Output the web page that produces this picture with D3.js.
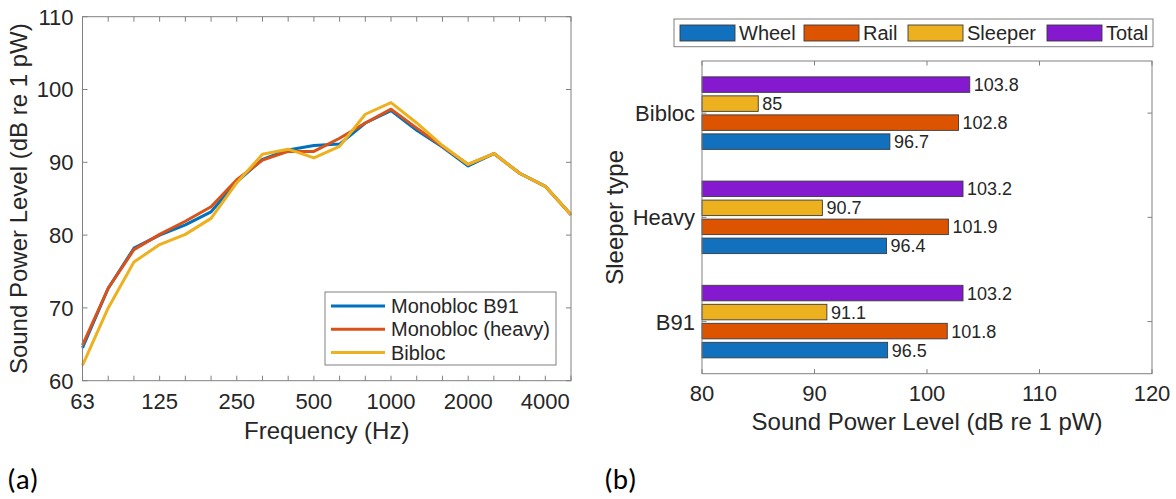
<!DOCTYPE html>
<html>
<head>
<meta charset="utf-8">
<script src="https://cdn.jsdelivr.net/npm/d3@7"></script>
<style>
  html, body { margin: 0; padding: 0; background: #fff; }
  svg { display: block; }
  text { font-family: "Liberation Sans", Arial, sans-serif; fill: #262626; }
</style>
</head>
<body>
<svg id="chart" width="1176" height="499"></svg>
<script>
// ---------- Data: panel (a) ----------
const freqs = ["63","80","100","125","160","200","250","315","400","500","630","800","1000","1250","1600","2000","2500","3150","4000","5000"];
const freqTickLabels = ["63","125","250","500","1000","2000","4000"];
const monoB91   = [64.5,72.7,78.2,80.0,81.4,83.2,87.3,90.4,91.7,92.3,92.5,95.4,97.1,94.4,92.1,89.5,91.2,88.5,86.7,82.8];
const monoHeavy = [64.9,72.7,78.0,80.1,81.9,83.9,87.6,90.3,91.5,91.5,93.3,95.4,97.3,94.7,92.2,89.7,91.2,88.5,86.7,82.8];
const bibloc    = [62.1,70.0,76.3,78.7,80.1,82.3,87.2,91.1,91.8,90.6,92.2,96.6,98.2,95.4,92.3,89.7,91.2,88.5,86.7,82.8];
const lineNames = ["Monobloc B91","Monobloc (heavy)","Bibloc"];
const yTicksA = [60,70,80,90,100,110];

// ---------- Data: panel (b) ----------
const sleeperTypes = ["Bibloc","Heavy","B91"];          // top to bottom
const seriesNames  = ["Wheel","Rail","Sleeper","Total"];
const wheel   = [96.7, 96.4, 96.5];
const rail    = [102.8, 101.9, 101.8];
const sleeper = [85, 90.7, 91.1];
const total   = [103.8, 103.2, 103.2];
const xTicksB = [80,90,100,110,120];

const svg = d3.select("#chart");
const axisCol = "#808080";
const lineColors = ["#0072BD","#D95319","#EDB120"];
const barColors  = {Wheel:"#1171BE", Rail:"#DD5400", Sleeper:"#EDB120", Total:"#8419D0"};

// ================= Panel (a) =================
{
  const L = 82.5, R = 571, T = 16.7, B = 380.7;
  const x = d3.scalePoint().domain(freqs).range([L, R]);
  const y = d3.scaleLinear().domain([60,110]).range([B, T]);
  const g = svg.append("g");

  const tl = 5;
  freqs.forEach(f => {
    g.append("line").attr("x1", x(f)).attr("x2", x(f)).attr("y1", B).attr("y2", B - tl).attr("stroke", axisCol);
    g.append("line").attr("x1", x(f)).attr("x2", x(f)).attr("y1", T).attr("y2", T + tl).attr("stroke", axisCol);
  });
  yTicksA.forEach(v => {
    g.append("line").attr("x1", L).attr("x2", L + tl).attr("y1", y(v)).attr("y2", y(v)).attr("stroke", axisCol);
    g.append("line").attr("x1", R).attr("x2", R - tl).attr("y1", y(v)).attr("y2", y(v)).attr("stroke", axisCol);
    g.append("text").attr("x", L - 9).attr("y", y(v)).attr("dy", "0.36em")
      .attr("text-anchor", "end").style("font-size", "22px").text(v);
  });
  freqTickLabels.forEach(f => {
    g.append("text").attr("x", x(f)).attr("y", 409).attr("text-anchor", "middle")
      .style("font-size", "22px").text(f);
  });

  const series = [monoB91, monoHeavy, bibloc];
  const line = d3.line().x((d,i) => x(freqs[i])).y(d => y(d));
  series.forEach((s, k) => {
    g.append("path").datum(s).attr("d", line).attr("fill", "none")
      .attr("stroke", lineColors[k]).attr("stroke-width", 3).attr("stroke-linejoin", "round");
  });

  g.append("rect").attr("x", L).attr("y", T).attr("width", R - L).attr("height", B - T)
    .attr("fill", "none").attr("stroke", axisCol);

  g.append("text").attr("x", (L + R) / 2).attr("y", 439).attr("text-anchor", "middle")
    .style("font-size", "24px").text("Frequency (Hz)");
  g.append("text").attr("transform", `translate(27,${(T + B) / 2}) rotate(-90)`)
    .attr("text-anchor", "middle").style("font-size", "24px").text("Sound Power Level (dB re 1 pW)");

  const lg = g.append("g");
  lg.append("rect").attr("x", 325).attr("y", 292).attr("width", 231).attr("height", 73)
    .attr("fill", "#fff").attr("stroke", axisCol);
  lineNames.forEach((n, k) => {
    const ly = 306 + k * 23.2;
    lg.append("line").attr("x1", 331).attr("x2", 385).attr("y1", ly).attr("y2", ly)
      .attr("stroke", lineColors[k]).attr("stroke-width", 3);
    lg.append("text").attr("x", 391).attr("y", ly).attr("dy", "0.36em")
      .style("font-size", "20px").text(n);
  });

  svg.append("text").attr("x", 7).attr("y", 489).style("font-family", "Carlito, Lato, 'Open Sans', sans-serif")
    .style("font-size", "29px").style("fill", "#000").text("(a)");
}

// ================= Panel (b) =================
{
  const L = 702, R = 1152, T = 61, B = 373.7;
  const x = d3.scaleLinear().domain([80,120]).range([L, R]);
  const yCat = d3.scaleBand().domain(sleeperTypes).range([T, B]).padding(0);
  const ySer = d3.scaleBand().domain(["Total","Sleeper","Rail","Wheel"])
    .range([0, yCat.bandwidth()]).paddingInner(0.184).paddingOuter(0.834);
  const g = svg.append("g");
  const values = {Wheel: wheel, Rail: rail, Sleeper: sleeper, Total: total};

  sleeperTypes.forEach((cat, ci) => {
    seriesNames.forEach(s => {
      const v = values[s][ci];
      const yy = yCat(cat) + ySer(s);
      g.append("rect").attr("x", x(80)).attr("y", yy)
        .attr("width", x(v) - x(80)).attr("height", ySer.bandwidth())
        .attr("fill", barColors[s]).attr("stroke", "#3a3a3a").attr("stroke-width", 0.9);
      g.append("text").attr("x", x(v) + 4).attr("y", yy + ySer.bandwidth() / 2).attr("dy", "0.36em")
        .style("font-size", "18px").text(String(v));
    });
  });

  const tl = 4.5;
  xTicksB.forEach(v => {
    g.append("line").attr("x1", x(v)).attr("x2", x(v)).attr("y1", B).attr("y2", B - tl).attr("stroke", axisCol);
    g.append("line").attr("x1", x(v)).attr("x2", x(v)).attr("y1", T).attr("y2", T + tl).attr("stroke", axisCol);
    g.append("text").attr("x", x(v)).attr("y", 401).attr("text-anchor", "middle")
      .style("font-size", "22px").text(v);
  });
  sleeperTypes.forEach(cat => {
    const cy = yCat(cat) + yCat.bandwidth() / 2;
    g.append("line").attr("x1", L).attr("x2", L + tl).attr("y1", cy).attr("y2", cy).attr("stroke", axisCol);
    g.append("line").attr("x1", R).attr("x2", R - tl).attr("y1", cy).attr("y2", cy).attr("stroke", axisCol);
    g.append("text").attr("x", L - 7).attr("y", cy).attr("dy", "0.36em")
      .attr("text-anchor", "end").style("font-size", "22px").text(cat);
  });

  g.append("rect").attr("x", L).attr("y", T).attr("width", R - L).attr("height", B - T)
    .attr("fill", "none").attr("stroke", axisCol);

  g.append("text").attr("x", (L + R) / 2).attr("y", 430).attr("text-anchor", "middle")
    .style("font-size", "24px").text("Sound Power Level (dB re 1 pW)");
  g.append("text").attr("transform", `translate(623,${(T + B) / 2}) rotate(-90)`)
    .attr("text-anchor", "middle").style("font-size", "24px").text("Sleeper type");

  const lg = g.append("g");
  lg.append("rect").attr("x", 674).attr("y", 19).attr("width", 479).attr("height", 27.7)
    .attr("fill", "#fff").attr("stroke", axisCol);
  const legX = [680, 804, 908, 1047];
  seriesNames.forEach((s, k) => {
    lg.append("rect").attr("x", legX[k]).attr("y", 25).attr("width", 55).attr("height", 16)
      .attr("fill", barColors[s]).attr("stroke", "#3a3a3a").attr("stroke-width", 0.9);
    lg.append("text").attr("x", legX[k] + 59).attr("y", 33).attr("dy", "0.36em")
      .style("font-size", "20px").text(s);
  });

  svg.append("text").attr("x", 604).attr("y", 489).style("font-family", "Carlito, Lato, 'Open Sans', sans-serif")
    .style("font-size", "29px").style("fill", "#000").text("(b)");
}
</script>
</body>
</html>
